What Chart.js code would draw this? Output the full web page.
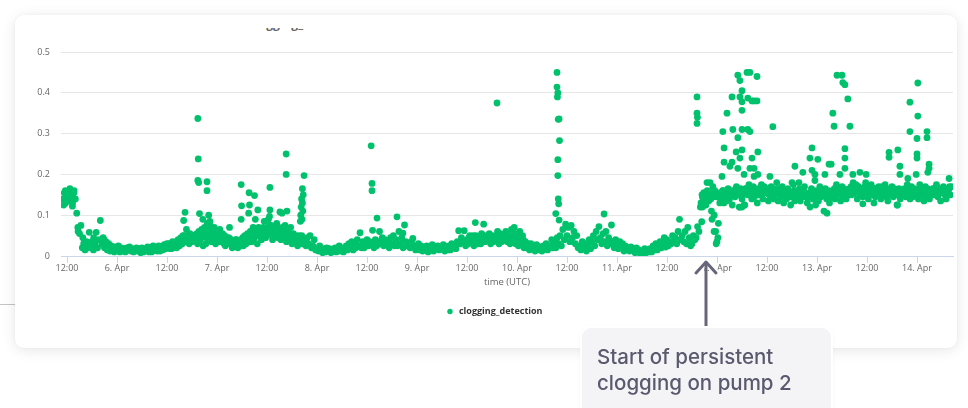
<!DOCTYPE html>
<html>
<head>
<meta charset="utf-8">
<script src="https://cdn.jsdelivr.net/npm/chart.js@4.4.1/dist/chart.umd.min.js"></script>
<style>
  html, body { margin: 0; padding: 0; background: #ffffff; }
  body { width: 968px; height: 408px; position: relative; overflow: hidden; font-family: "Open Sans", "Liberation Sans", sans-serif; }
  #divider { position: absolute; left: 0; top: 304px; width: 20px; height: 1px; background: #c4c4c8; z-index: 0; }
  #card { position: absolute; left: 15px; top: 15px; width: 942px; height: 333px; background: #fff; border-radius: 9px;
          box-shadow: 0 2px 14px rgba(0,0,0,0.10), 0 0 3px rgba(0,0,0,0.04); z-index: 1; }
  #titleclip { position: absolute; left: 249px; top: 28px; width: 90px; height: 5px; overflow: hidden; z-index: 2; }
  #titleclip span { position: absolute; left: 0; top: -10px; font: bold 12px/12px "Open Sans", sans-serif; color: #666; white-space: nowrap; }
  #chart { position: absolute; left: 0; top: 0; z-index: 2; }
  #arrow { position: absolute; left: 0; top: 0; z-index: 3; }
  #note { position: absolute; left: 580px; top: 326px; width: 253px; height: 100px; background: #f4f4f7; border: 2px solid #ffffff;
          border-radius: 11px; box-sizing: border-box; z-index: 4; box-shadow: 0 1px 4px rgba(0,0,0,0.04); }
  #note div { position: absolute; left: 15px; top: 16px; font-family: Inter, "Open Sans", sans-serif; font-weight: 500; font-size: 20.5px;
              line-height: 26px; color: #5a596e; white-space: nowrap; }
</style>
</head>
<body>
<div id="divider"></div>
<div id="card"></div>
<div id="titleclip"><span>clogging_detection</span></div>
<canvas id="chart" width="968" height="408"></canvas>
<svg id="arrow" width="968" height="408">
  <path d="M696 273 L706 262 L716 273" fill="none" stroke="#ffffff" stroke-width="7" stroke-linecap="round" stroke-linejoin="round"/>
  <line x1="706" y1="263" x2="706" y2="327" stroke="#66657a" stroke-width="3"/>
  <path d="M696 273 L706 262 L716 273" fill="none" stroke="#66657a" stroke-width="3" stroke-linecap="round" stroke-linejoin="round"/>
</svg>
<div id="note"><div>Start of persistent<br>clogging on pump 2</div></div>
<script>
// x values are hours since 5 Apr 00:00 UTC; each day array holds readings every 20 minutes
const seriesName = 'clogging_detection';
const xTickStepHours = 12;
const yTicks = [0, 0.1, 0.2, 0.3, 0.4, 0.5];

// 5 Apr, from 11:00
const day5Start = 11;
const day5 = [0.14,0.155,0.13, 0.15,0.135,0.16, 0.145,0.13,0.155, 0.14,0.105,0.06, 0.055,0.075,0.02, 0.03,0.015,0.035,
  0.02,0.058,0.025, 0.035,0.015,0.03, 0.058,0.02,0.04, 0.087,0.03,0.045, 0.02,0.035,0.015, 0.03,0.012,0.025, 0.018,0.01,0.022];
// 6 Apr
const day6 = [0.015,0.025,0.01, 0.02,0.012,0.018, 0.01,0.02,0.015, 0.022,0.012,0.018, 0.01,0.015,0.02, 0.012,0.018,0.008,
  0.02,0.01,0.015, 0.013,0.022,0.01, 0.018,0.01,0.025, 0.015,0.02,0.012, 0.025,0.012,0.02, 0.015,0.028,0.018,
  0.03,0.02,0.025, 0.018,0.035,0.025, 0.03,0.02,0.04, 0.025,0.045,0.03, 0.087,0.107,0.065, 0.045,0.03,0.05,
  0.035,0.05,0.04, 0.045,0.03,0.06, 0.04,0.065,0.025, 0.07,0.03,0.08, 0.06,0.075,0.035, 0.045,0.07,0.03];
// 7 Apr
const day7 = [0.05,0.035,0.065, 0.04,0.055,0.03, 0.025,0.045,0.035, 0.07,0.03,0.02, 0.035,0.025,0.04, 0.02,0.035,0.03,
  0.04,0.025,0.05, 0.03,0.055,0.04, 0.06,0.035,0.07, 0.045,0.065,0.03, 0.07,0.05,0.04, 0.06,0.085,0.045,
  0.05,0.09,0.065, 0.075,0.04,0.06, 0.055,0.08,0.045, 0.065,0.04,0.07, 0.05,0.075,0.035, 0.06,0.04,0.07,
  0.03,0.055,0.045, 0.04,0.025,0.05, 0.035,0.05,0.03, 0.04,0.025,0.045, 0.03,0.05,0.02, 0.025,0.04,0.015];
// 8 Apr
const day8 = [0.02,0.012,0.025, 0.015,0.008,0.018, 0.01,0.02,0.012, 0.018,0.008,0.015, 0.012,0.02,0.01, 0.015,0.025,0.012,
  0.02,0.01,0.018, 0.025,0.015,0.03, 0.02,0.035,0.015, 0.03,0.02,0.04, 0.025,0.057,0.02, 0.035,0.02,0.03,
  0.04,0.025,0.035, 0.03,0.063,0.02, 0.04,0.025,0.035, 0.06,0.03,0.045, 0.025,0.04,0.03, 0.035,0.02,0.045,
  0.03,0.05,0.025, 0.04,0.025,0.06, 0.03,0.045,0.02, 0.076,0.035,0.025, 0.03,0.02,0.035, 0.043,0.025,0.015];
// 9 Apr
const day9 = [0.02,0.03,0.015, 0.025,0.012,0.02, 0.015,0.025,0.01, 0.02,0.015,0.028, 0.012,0.022,0.018, 0.025,0.015,0.02,
  0.018,0.028,0.012, 0.022,0.015,0.025, 0.015,0.03,0.02, 0.025,0.018,0.035, 0.062,0.03,0.045, 0.035,0.062,0.025,
  0.04,0.03,0.05, 0.035,0.045,0.025, 0.082,0.04,0.03, 0.045,0.03,0.05, 0.078,0.035,0.045, 0.04,0.055,0.03,
  0.05,0.035,0.045, 0.04,0.06,0.03, 0.055,0.035,0.05, 0.045,0.06,0.035, 0.05,0.03,0.065, 0.04,0.07,0.03];
// 10 Apr
const day10 = [0.045,0.025,0.06, 0.03,0.05,0.02, 0.035,0.02,0.03, 0.015,0.03,0.025, 0.02,0.012,0.028, 0.025,0.015,0.02,
  0.012,0.025,0.018, 0.03,0.015,0.02, 0.025,0.04,0.02, 0.035,0.02,0.045, 0.03,0.05,0.025, 0.065,0.04,0.078,
  0.05,0.07,0.035, 0.075,0.045,0.06, 0.03,0.05,0.02, 0.025,0.015,0.035, 0.02,0.03,0.012, 0.025,0.04,0.018,
  0.035,0.05,0.025, 0.06,0.04,0.072, 0.045,0.03,0.055, 0.035,0.06,0.025, 0.045,0.03,0.076, 0.035,0.02,0.04];
// 11 Apr
const day11 = [0.03,0.018,0.035, 0.02,0.03,0.012, 0.025,0.015,0.02, 0.012,0.022,0.018, 0.015,0.008,0.02, 0.01,0.015,0.005,
  0.012,0.005,0.018, 0.008,0.015,0.01, 0.018,0.01,0.025, 0.02,0.03,0.015, 0.025,0.035,0.02, 0.03,0.045,0.022,
  0.04,0.025,0.035, 0.03,0.05,0.035, 0.045,0.03,0.06, 0.09,0.04,0.05, 0.035,0.06,0.03, 0.07,0.045,0.025,
  0.03,0.05,0.04, 0.045,0.072,0.06, 0.12,0.084,0.14, 0.15,0.125,0.16, 0.135,0.18,0.11, 0.145,0.1,0.06];
// 12 Apr
const day12 = [0.035,0.08,0.13, 0.145,0.16,0.13, 0.15,0.135,0.165, 0.14,0.155,0.125, 0.16,0.145,0.17, 0.15,0.12,0.165,
  0.14,0.16,0.125, 0.165,0.15,0.175, 0.155,0.14,0.17, 0.145,0.165,0.13, 0.16,0.15,0.175, 0.14,0.17,0.155,
  0.165,0.135,0.15, 0.17,0.155,0.14, 0.15,0.18,0.135, 0.16,0.145,0.17, 0.13,0.155,0.14, 0.165,0.15,0.125,
  0.145,0.175,0.135, 0.155,0.14,0.18, 0.135,0.16,0.15, 0.17,0.145,0.13, 0.15,0.12,0.165, 0.14,0.16,0.125];
// 13 Apr
const day13 = [0.155,0.135,0.17, 0.145,0.16,0.11, 0.165,0.14,0.15, 0.13,0.155,0.145, 0.16,0.14,0.175, 0.15,0.165,0.135,
  0.17,0.145,0.155, 0.14,0.16,0.15, 0.165,0.15,0.18, 0.155,0.175,0.14, 0.17,0.15,0.16, 0.145,0.165,0.18,
  0.16,0.14,0.155, 0.175,0.15,0.13, 0.145,0.165,0.155, 0.16,0.14,0.17, 0.15,0.175,0.145, 0.135,0.16,0.15,
  0.17,0.145,0.155, 0.15,0.125,0.165, 0.14,0.16,0.15, 0.165,0.145,0.175, 0.155,0.14,0.17, 0.145,0.165,0.15];
// 14 Apr, until 08:20
const day14 = [0.16,0.14,0.175, 0.15,0.165,0.135, 0.17,0.145,0.155, 0.14,0.16,0.15, 0.165,0.15,0.175, 0.145,0.16,0.135,
  0.155,0.17,0.15, 0.14,0.16,0.165, 0.15,0.17];

// second sensor pass, offset by 10 minutes, 20-minute steps
const passA_start = 36 + 1 / 6;   // 6 Apr 12:10
const passA = [0.022,0.03,0.018, 0.028,0.02,0.032, 0.035,0.025,0.03, 0.04,0.03,0.05, 0.05,0.035,0.045, 0.04,0.055,0.035,
  0.05,0.04,0.045, 0.055,0.04,0.05, 0.045,0.06,0.055, 0.06,0.045,0.065, 0.05,0.065,0.055, 0.06,0.05,0.045,
  0.045,0.055,0.04, 0.035,0.045,0.05, 0.04,0.03,0.045, 0.035,0.04,0.03, 0.03,0.04,0.035, 0.035,0.025,0.04,
  0.045,0.035,0.04, 0.05,0.045,0.035, 0.05,0.06,0.045, 0.055,0.05,0.06, 0.06,0.055,0.065, 0.07,0.055,0.06,
  0.06,0.075,0.055, 0.065,0.055,0.07, 0.06,0.07,0.05, 0.055,0.06,0.065, 0.06,0.05,0.055, 0.05,0.055,0.045,
  0.045,0.04,0.05, 0.035,0.045,0.03];
const passB_start = 108 + 1 / 6;  // 9 Apr 12:10
const passB = [0.035,0.045,0.04, 0.04,0.05,0.035, 0.05,0.04,0.045, 0.04,0.055,0.05, 0.05,0.045,0.04, 0.045,0.05,0.04,
  0.04,0.045,0.05, 0.05,0.045,0.04, 0.045,0.04,0.05, 0.05,0.045,0.04, 0.045,0.05,0.04, 0.05,0.045,0.055,
  0.04,0.05,0.045, 0.035,0.04,0.03];
const passC_start = 164 + 1 / 6;  // 11 Apr 20:10
const passC = [0.13,0.145,0.155, 0.14,0.15,0.145, 0.155,0.14,0.16, 0.15,0.16,0.145,
  0.15,0.145,0.155, 0.15,0.16,0.145, 0.155,0.145,0.16, 0.16,0.15,0.155, 0.155,0.165,0.15, 0.16,0.15,0.155,
  0.15,0.155,0.165, 0.16,0.155,0.15, 0.165,0.155,0.16, 0.155,0.16,0.15, 0.165,0.16,0.155, 0.155,0.165,0.16,
  0.16,0.15,0.155, 0.155,0.165,0.15, 0.16,0.155,0.165, 0.15,0.16,0.155, 0.145,0.15,0.155, 0.155,0.145,0.15,
  0.15,0.16,0.145, 0.16,0.15,0.165, 0.15,0.145,0.155, 0.155,0.15,0.145, 0.145,0.155,0.15, 0.15,0.145,0.155,
  0.16,0.15,0.155, 0.155,0.16,0.15, 0.15,0.155,0.16, 0.145,0.15,0.16, 0.165,0.155,0.15, 0.155,0.16,0.165,
  0.16,0.165,0.155, 0.155,0.16,0.165, 0.17,0.16,0.165, 0.165,0.16,0.17, 0.16,0.165,0.155, 0.165,0.17,0.16,
  0.155,0.16,0.165, 0.16,0.155,0.165, 0.165,0.16,0.17, 0.155,0.165,0.16, 0.16,0.155,0.165, 0.15,0.16,0.155,
  0.16,0.165,0.155, 0.155,0.15,0.16, 0.16,0.155,0.15, 0.155,0.165,0.16, 0.16,0.155,0.165, 0.155,0.16,0.15,
  0.16,0.155,0.165, 0.155,0.16,0.15, 0.16,0.165,0.155, 0.155,0.16,0.165, 0.16,0.155,0.15, 0.155,0.165,0.16,
  0.16,0.155,0.165, 0.155,0.16,0.17];

// irregular readings and spikes: [hour, value]
const spikes = [
  [11.2,0.125],[11.6,0.16],[12.3,0.148],[12.7,0.165],[13.3,0.122],[13.7,0.16],[14.6,0.07],[15.8,0.045],[18.4,0.045],[20.9,0.04],
  [43.4,0.337],[43.5,0.238],[43.4,0.185],[43.6,0.18],[43.8,0.104],[44.6,0.09],[45.6,0.182],[45.6,0.16],[46.0,0.1],[46.3,0.085],
  [53.8,0.175],[53.9,0.123],[53.8,0.09],[55.7,0.155],[55.8,0.125],[55.6,0.105],[57.0,0.148],[57.2,0.09],[57.8,0.113],
  [60.7,0.168],[60.7,0.113],[60.6,0.097],[63.1,0.108],[63.6,0.105],[64.6,0.25],[64.6,0.2],[64.8,0.11],
  [68.9,0.197],[68.5,0.165],[68.7,0.15],[68.3,0.14],[68.5,0.13],[68.2,0.12],[68.6,0.11],[68.1,0.1],[68.4,0.09],[68.0,0.085],
  [85.0,0.27],[85.2,0.178],[85.2,0.16],[86.4,0.093],[91.2,0.096],[92.6,0.056],
  [115.2,0.375],
  [129.3,0.104],[129.6,0.45],[129.6,0.414],[129.8,0.4],[129.7,0.39],[129.9,0.335],[130.1,0.336],[129.8,0.236],[129.8,0.197],
  [130.2,0.283],[129.9,0.14],[130.0,0.128],[130.1,0.088],[140.9,0.103],
  [163.2,0.39],[163.2,0.35],[163.3,0.34],[163.2,0.325],[164.4,0.15],[164.5,0.12],[165.6,0.18],[167.0,0.17],
  [166.8,0.09],[167.3,0.06],[167.8,0.03],[168.2,0.045],
  [169.2,0.195],[169.4,0.305],[169.7,0.265],[169.7,0.23],[170.4,0.35],[171.1,0.22],[171.6,0.39],[171.6,0.23],[171.8,0.31],
  [172.6,0.255],[173.0,0.443],[173.0,0.29],[173.0,0.215],[173.5,0.43],[173.5,0.39],[173.5,0.24],[173.5,0.12],
  [174.0,0.405],[174.0,0.378],[174.0,0.357],[174.0,0.31],[174.0,0.26],[174.0,0.12],[174.5,0.2],[174.5,0.125],
  [175.2,0.45],[175.4,0.387],[175.4,0.31],[175.9,0.45],[175.9,0.305],[175.9,0.215],[176.4,0.38],[176.4,0.24],
  [176.9,0.38],[176.9,0.195],[176.9,0.215],[177.6,0.44],[177.6,0.38],[177.8,0.255],[177.8,0.2],
  [180.7,0.195],[181.4,0.317],[186.7,0.22],[186.0,0.18],
  [188.6,0.205],[190.3,0.24],[190.8,0.265],[190.8,0.21],[191.5,0.2],[191.5,0.185],[192.2,0.237],[193.9,0.2],[194.4,0.105],
  [194.9,0.225],[195.4,0.225],
  [195.8,0.35],[196.1,0.318],[196.8,0.443],[198.0,0.443],[198.2,0.425],[198.7,0.42],[198.7,0.263],[198.7,0.24],[198.7,0.215],
  [199.4,0.385],[199.9,0.318],[197.5,0.2],
  [200.6,0.2],[202.3,0.205],[203.8,0.2],[203.0,0.128],
  [209.3,0.254],[209.3,0.242],[211.4,0.26],[211.9,0.22],[211.9,0.2],[211.2,0.125],
  [214.3,0.377],[214.3,0.305],[213.8,0.19],[215.8,0.2],[216.2,0.424],[216.2,0.343],[216.0,0.288],[216.0,0.25],[216.0,0.24],
  [218.4,0.305],[218.4,0.29],[218.9,0.225],[218.9,0.215],[218.6,0.205],[223.7,0.19]
];

const blocks = [
  [day5Start, day5], [24, day6], [48, day7], [72, day8], [96, day9],
  [120, day10], [144, day11], [168, day12], [192, day13], [216, day14],
  [passA_start, passA], [passB_start, passB], [passC_start, passC]
];

const points = [];
blocks.forEach(([start, vals]) => {
  vals.forEach((v, i) => points.push({ x: start + i / 3, y: v }));
});
spikes.forEach(([h, v]) => points.push({ x: h, y: v }));

const FONT = '"Open Sans", "Liberation Sans", sans-serif';

new Chart(document.getElementById('chart'), {
  type: 'scatter',
  data: {
    datasets: [{
      label: seriesName,
      data: points,
      backgroundColor: '#00c26c',
      borderWidth: 0,
      pointRadius: 3.4,
      pointHoverRadius: 3.4,
      pointStyle: 'circle'
    }]
  },
  options: {
    responsive: false,
    animation: false,
    devicePixelRatio: 1,
    layout: { padding: { left: 35, right: 15, top: 52, bottom: 82 } },
    plugins: {
      tooltip: { enabled: false },
      legend: {
        position: 'bottom',
        labels: {
          usePointStyle: true,
          boxWidth: 9, boxHeight: 3.8,
          padding: 10,
          color: '#333333',
          font: { size: 9, weight: 'bold', family: FONT }
        }
      }
    },
    scales: {
      x: {
        type: 'linear',
        min: 10.56,
        max: 224.64,
        afterFit: s => { s.height = 41; },
        border: { color: '#ccd6eb', width: 1 },
        grid: { drawOnChartArea: false, color: '#ccd6eb', tickLength: 7 },
        ticks: {
          stepSize: xTickStepHours,
          includeBounds: false,
          autoSkip: false,
          maxRotation: 0,
          padding: 0,
          color: '#666666',
          font: { size: 9, family: FONT },
          callback: v => (v % 24 === 0 ? (5 + v / 24) + '. Apr' : '12:00')
        },
        title: {
          display: true, text: 'time (UTC)', color: '#666666',
          font: { size: 9.5, family: FONT }, padding: { top: 0, bottom: 9 }
        }
      },
      y: {
        min: yTicks[0],
        max: yTicks[yTicks.length - 1],
        afterFit: s => { s.width = 26; },
        afterBuildTicks: s => { s.ticks = yTicks.map(v => ({ value: v })); },
        border: { display: false },
        grid: { color: '#e6e6e6', drawTicks: false },
        ticks: {
          padding: 11,
          color: '#666666',
          font: { size: 9, family: FONT },
          callback: v => (v === 0 ? '0' : v.toFixed(1))
        }
      }
    }
  }
});
</script>
</body>
</html>
